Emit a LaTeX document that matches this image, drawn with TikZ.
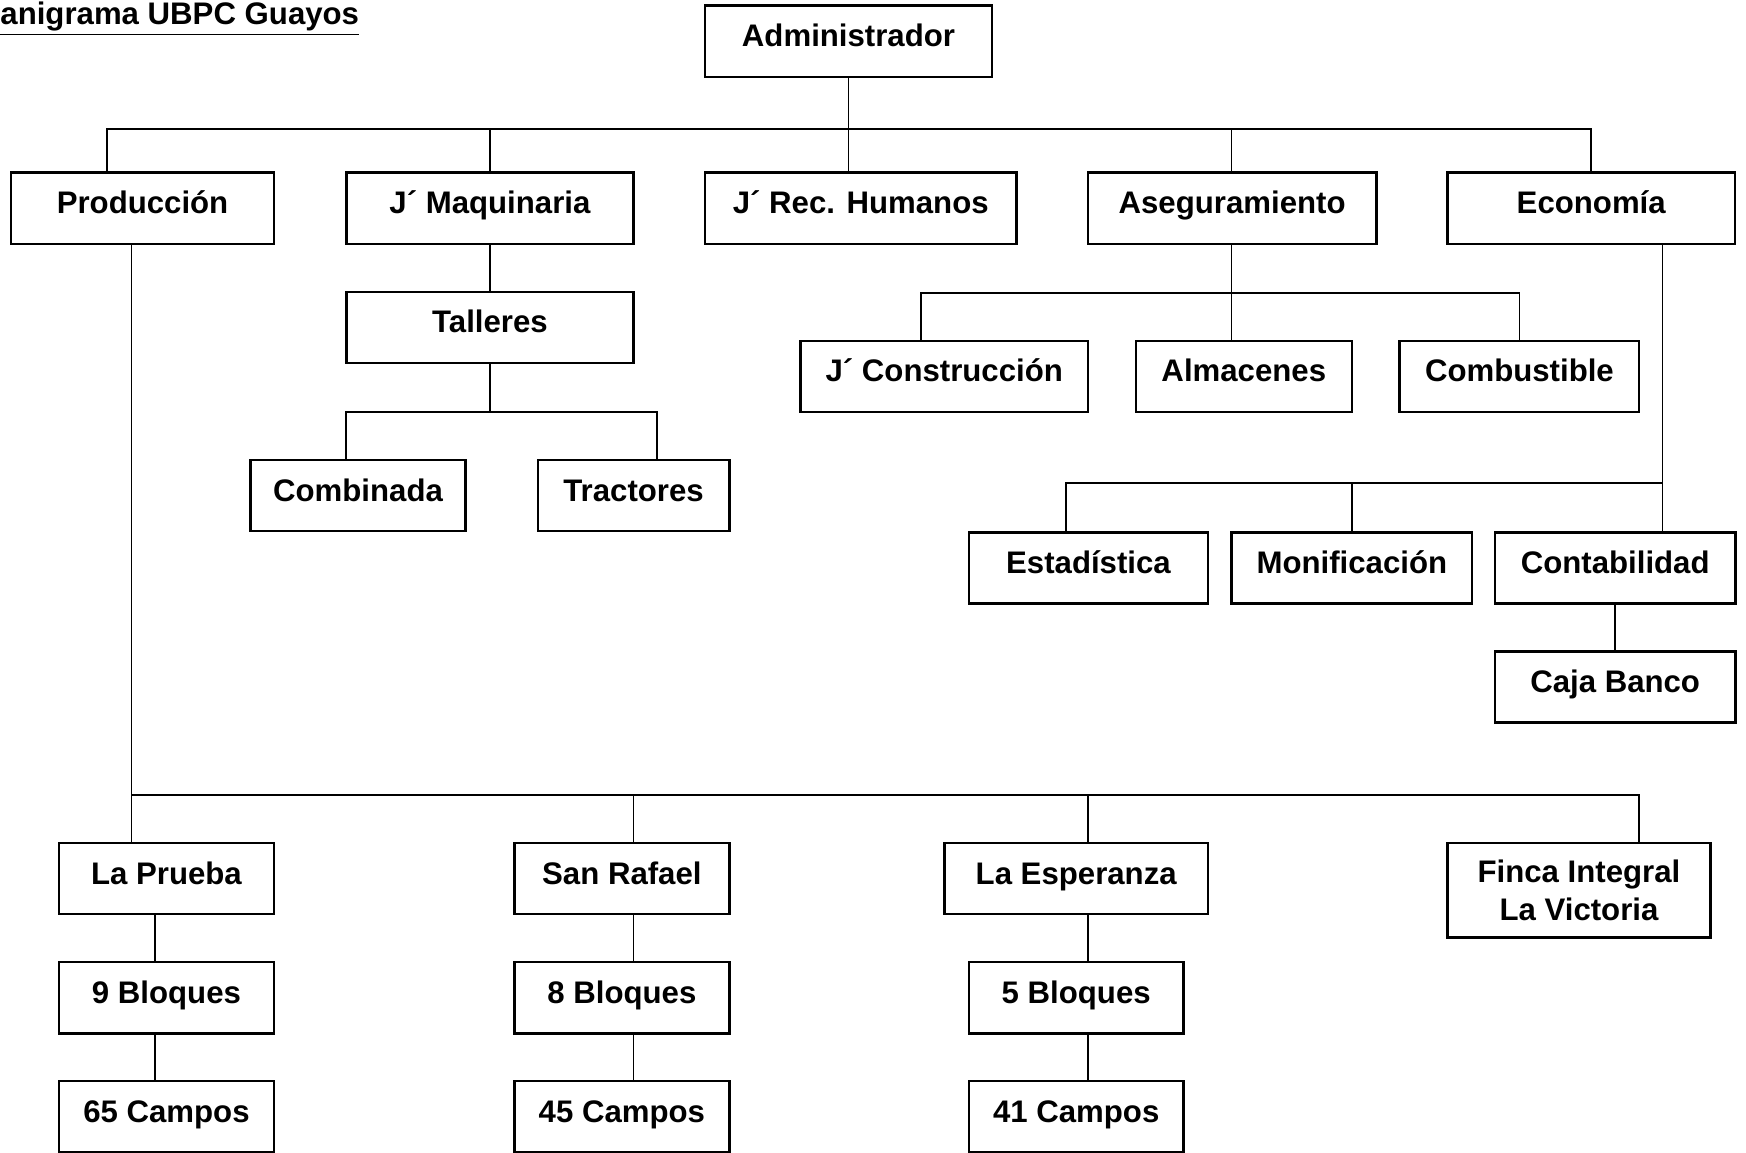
\documentclass[tikz,border=0pt]{standalone}
\usepackage{fontspec}
\setmainfont{Liberation Sans}
\usetikzlibrary{positioning}

\begin{document}
\begin{tikzpicture}[
    x=0.5pt, y=-0.5pt,
    node distance=20.4pt,
    base/.style={rectangle, draw=black, line width=1.1pt, align=center, inner sep=0pt, font=\bfseries\fontsize{14}{17}\selectfont},
    box/.style={base, minimum height=32pt, text height=10pt, text depth=5pt},
    ln/.style={draw=black, line width=0.8pt}
]
    \useasboundingbox (0,0) rectangle (1568,1035);

    \node [anchor=base west, inner sep=0pt, font=\bfseries\fontsize{14}{17}\selectfont] (title) at (0,22) {\underline{anigrama UBPC Guayos}};

    % nivel superior
    \node [box, minimum width=129pt] (adm) at (762,37) {Administrador};
    \node [box, minimum width=118pt] (prod) at (128,187) {Producción};
    \node [box, minimum width=129pt] (maq) at (440,187) {J´ Maquinaria};
    \node [box, minimum width=140pt] (rh) at (773,187) {J´ Rec. Humanos};
    \node [box, minimum width=129.5pt] (aseg) at (1106.5,187) {Aseguramiento};
    \node [box, minimum width=129pt] (eco) at (1429,187) {Economía};

    % maquinaria
    \node [box, minimum width=129pt, below=of maq] (tal) {Talleres};
    \node [box, minimum width=96.5pt] (comb) at (321.5,445) {Combinada};
    \node [box, minimum width=86pt] (trac) at (569,445) {Tractores};

    % aseguramiento
    \node [box, minimum width=129pt] (cons) at (848,338) {J´ Construcción};
    \node [box, minimum width=97pt] (alm) at (1117,338) {Almacenes};
    \node [box, minimum width=107.5pt] (cmb) at (1364.5,338) {Combustible};

    % economia
    \node [box, minimum width=107.5pt] (est) at (977.5,510) {Estadística};
    \node [box, minimum width=108pt] (mon) at (1214,510) {Monificación};
    \node [box, minimum width=108pt] (cont) at (1450.5,510) {Contabilidad};
    \node [box, minimum width=108pt, below=of cont] (caja) {Caja Banco};

    % produccion
    \node [box, minimum width=96.5pt] (p1) at (149.5,789) {La Prueba};
    \node [box, minimum width=96.5pt, below=of p1] (bl1) {9 Bloques};
    \node [box, minimum width=96.5pt, below=of bl1] (cp1) {65 Campos};
    \node [box, minimum width=96.5pt] (p2) at (558.5,789) {San Rafael};
    \node [box, minimum width=96.5pt, below=of p2] (bl2) {8 Bloques};
    \node [box, minimum width=96.5pt, below=of bl2] (cp2) {45 Campos};
    \node [box, minimum width=118.5pt] (p3) at (966.5,789) {La Esperanza};
    \node [box, minimum width=96.5pt, below=of p3] (bl3) {5 Bloques};
    \node [box, minimum width=96.5pt, below=of bl3] (cp3) {41 Campos};
    \node [base, minimum width=118pt, minimum height=42.5pt] (p4) at (1418,799.5) {Finca Integral\\La Victoria};

    \coordinate (bus0) at (762,116);
    \coordinate (bus1) at (440,370);
    \coordinate (bus2) at (1106,263);
    \coordinate (bus3) at (1493,434);
    \coordinate (bus4) at (118,714);

    \draw [ln] (adm.south) -- ([xshift=-5.5pt]rh.north);
    \draw [ln] ([xshift=-16pt]prod.north) |- (bus0) -| (eco.north);
    \draw [ln] (maq.north) -- (maq.north |- bus0);
    \draw [ln] (aseg.north -| bus2) -- (bus2 |- bus0);

    \draw [ln] (maq) -- (tal);
    \draw [ln] (tal) -- (bus1);
    \draw [ln] ([xshift=-5.25pt]comb.north) |- (bus1) -| ([xshift=10.5pt]trac.north);

    \draw [ln] (aseg.south -| bus2) -- (bus2) -- ([xshift=-5.5pt]alm.north);
    \draw [ln] ([xshift=-10.5pt]cons.north) |- (bus2) -| (cmb.north);

    \draw [ln] ([xshift=32pt]eco.south) -- ([xshift=21.25pt]cont.north);
    \draw [ln] ([xshift=-10.25pt]est.north) |- (bus3);
    \draw [ln] (mon.north) -- (mon.north |- bus3);
    \draw [ln] (cont) -- (caja);

    \draw [ln] ([xshift=-5pt]prod.south) -- (bus4) -- ([xshift=-15.75pt]p1.north);
    \draw [ln] (bus4) -| ([xshift=27pt]p4.north);
    \draw [ln] ([xshift=5.25pt]p2.north) -- ([xshift=5.25pt]p2.north |- bus4);
    \draw [ln] ([xshift=5.25pt]p3.north) -- ([xshift=5.25pt]p3.north |- bus4);

    \draw [ln] ([xshift=-5.25pt]p1.south) -- ([xshift=-5.25pt]bl1.north);
    \draw [ln] ([xshift=-5.25pt]bl1.south) -- ([xshift=-5.25pt]cp1.north);
    \draw [ln] ([xshift=5.25pt]p2.south) -- ([xshift=5.25pt]bl2.north);
    \draw [ln] ([xshift=5.25pt]bl2.south) -- ([xshift=5.25pt]cp2.north);
    \draw [ln] ([xshift=5.25pt]p3.south) -- ([xshift=5.25pt]bl3.north);
    \draw [ln] ([xshift=5.25pt]bl3.south) -- ([xshift=5.25pt]cp3.north);
\end{tikzpicture}
\end{document}
